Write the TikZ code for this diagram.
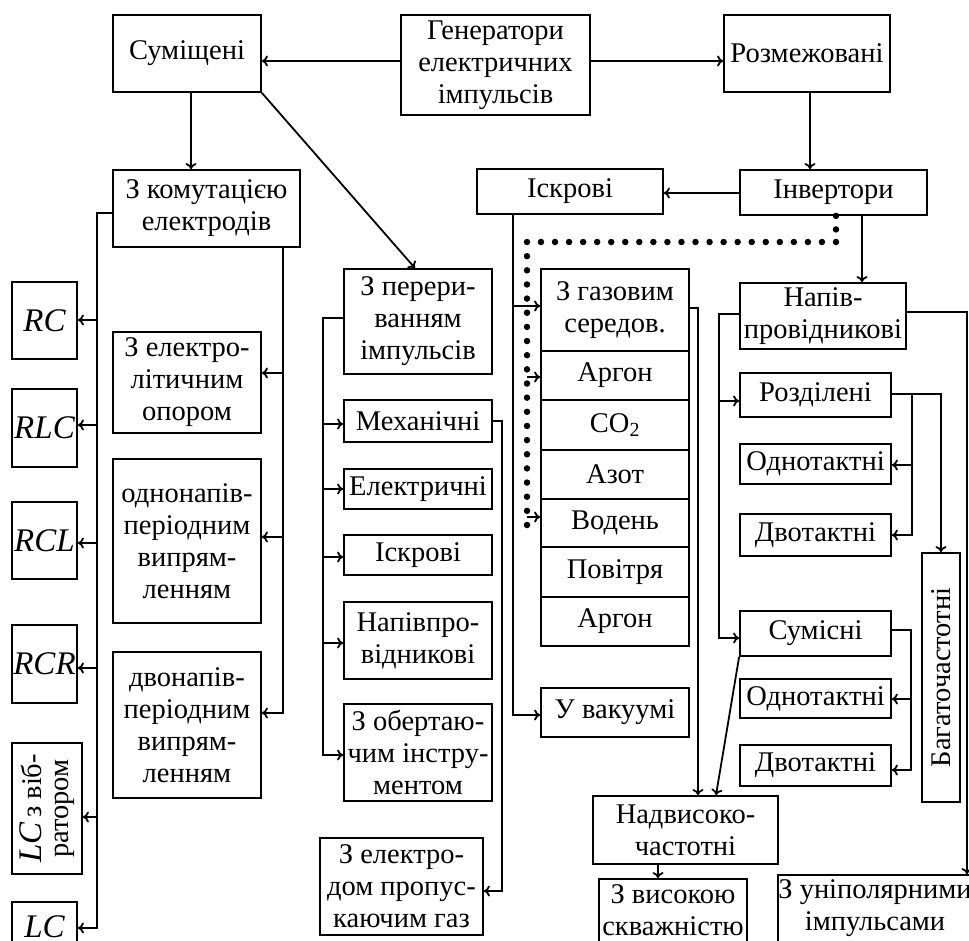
\documentclass[tikz,border=0pt]{standalone}
\usepackage{fontspec}
\setmainfont{Liberation Serif}
\usetikzlibrary{arrows.meta}
\tikzset{
  box/.style={draw, line width=1.8pt, inner sep=0pt, align=center, font=\fontsize{28.5}{32}\selectfont},
  conn/.style={line width=1.8pt},
  arr/.style={conn, -{To[length=6pt,width=11pt]}},
  dots/.style={line width=6.5pt, line cap=round, dash pattern=on 0pt off 14pt},
  it/.style={font=\fontsize{33}{34}\selectfont\itshape}
}
\newcommand\mybox[7][]{\node[box,minimum width={#5-#3},minimum height={#6-#4},#1] (#2) at ({(#3+#5)/2},{(#4+#6)/2}) {#7};}
\begin{document}
\begin{tikzpicture}[x=1pt,y=-1pt]
\clip (0,0) rectangle (969,940);
% top level
\mybox{gen}{401}{15}{590}{115}{Генератори\\електричних\\імпульсів}
\mybox{sum}{113}{15}{261}{92}{Суміщені}
\mybox{rozm}{724}{15}{890}{92}{Розмежовані}
\mybox{komut}{113}{170}{300}{247}{З комутацією\\електродів}
\mybox{iskr}{477}{169}{663}{214}{Іскрові}
\mybox{inv}{740}{170}{927}{215}{Інвертори}
\mybox{per}{344}{269}{492}{374}{З перери-\\ванням\\імпульсів}
% gas column
\mybox{gas}{541}{269}{689}{351}{З газовим\\середов.}
\mybox{ar1}{541}{351}{689}{400}{Аргон}
\mybox{co2}{541}{400}{689}{450}{CO\textsubscript{2}}
\mybox{az}{541}{450}{689}{499}{Азот}
\mybox{vod}{541}{499}{689}{547}{Водень}
\mybox{pov}{541}{547}{689}{597}{Повітря}
\mybox{ar2}{541}{597}{689}{646}{Аргон}
\mybox{vak}{541}{688}{689}{737}{У вакуумі}
% right column
\mybox{napiv}{740}{283}{906}{349}{Напів-\\провідникові}
\mybox{rozd}{740}{373}{891}{417}{Розділені}
\mybox{odn1}{740}{444}{891}{484}{Однотактні}
\mybox{dvo1}{740}{514}{891}{556}{Двотактні}
\mybox{sums}{740}{611}{891}{656}{Сумісні}
\mybox{odn2}{740}{679}{891}{718}{Однотактні}
\mybox{dvo2}{740}{745}{891}{786}{Двотактні}
\node[box,rotate=90,minimum width=249,minimum height=38] (bag) at (941,677.5) {Багаточастотні};
\mybox{nadv}{593}{796}{778}{864}{Надвисоко-\\частотні}
\mybox{vys}{599}{879}{747}{942}{З високою\\скважністю}
\mybox{unip}{779}{875}{971}{942}{З уніполярними\\імпульсами}
% left column
\mybox[it]{rc}{12}{282}{77}{359}{RC}
\mybox[it]{rlc}{12}{389}{77}{467}{RLC}
\mybox[it]{rcl}{12}{502}{77}{579}{RCL}
\mybox[it]{rcr}{12}{625}{77}{703}{RCR}
\node[box,rotate=90,minimum width=131,minimum height=70,font=\fontsize{28.5}{27}\selectfont] (lcv) at (47,808.5) {{\fontsize{33}{27}\selectfont\itshape LC}\,з віб-\\ратором};
\mybox[it]{lc}{12}{902}{77}{952}{LC}
\mybox{elit}{113}{332}{261}{433}{З електро-\\літичним\\опором}
\mybox{odnp}{113}{459}{261}{623}{однонапів-\\періодним\\випрям-\\ленням}
\mybox{dvnp}{113}{652}{261}{798}{двонапів-\\періодним\\випрям-\\ленням}
% middle column
\mybox{mech}{344}{400}{492}{442}{Механічні}
\mybox{elek}{344}{469}{492}{509}{Електричні}
\mybox{isk2}{344}{535}{492}{575}{Іскрові}
\mybox{npp}{344}{602}{492}{679}{Напівпро-\\відникові}
\mybox{obert}{344}{704}{492}{801}{З обертаю-\\чим інстру-\\ментом}
\mybox{zeld}{320}{838}{483}{935}{З електро-\\дом пропус-\\каючим газ}
% connectors: top
\draw[arr] (gen.west |- 0,61) -- (sum.east |- 0,61);
\draw[arr] (gen.east |- 0,61) -- (rozm.west |- 0,61);
\draw[arr] (sum.south -| 191,0) -- (komut.north -| 191,0);
\draw[arr] (sum.south east) -- (per.north -| 415,0);
\draw[arr] (rozm.south -| 810,0) -- (inv.north -| 810,0);
\draw[arr] (inv.west |- 0,193) -- (iskr.east |- 0,193);
\draw[arr] (inv.south -| 862,0) -- (napiv.north -| 862,0);
% dotted
\coordinate (dc1) at (836,242);
\coordinate (dc2) at (527,242);
\coordinate (dc3) at (527,525);
\coordinate (dA) at (527,377);
\coordinate (dB) at (527,517);
\draw[dots, dash pattern=on 0pt off 13.5pt] (inv.south -| 836,0) -- (dc1);
\draw[dots, dash pattern=on 0pt off 14.05pt] (dc1) -- (dc2);
\draw[dots, dash pattern=on 0pt off 14.15pt] (dc2) -- (dc3);
\draw[arr] (dA) -- (ar1.west |- dA);
\draw[arr] (dB) -- (vod.west |- dB);
% iskrovi
\coordinate (j1) at (513,306);
\draw[arr] (iskr.south -| 513,0) -- (513,715) -- (vak.west |- 0,715);
\draw[arr] (j1) -- (gas.west |- j1);
% to nadv
\draw[arr] (gas.east |- 0,308) -- (698,308) -- (nadv.north -| 698,0);
\draw[arr] (sums.south west) -- (nadv.north -| 716,0);
\draw[arr] (nadv.south -| 658,0) -- (vys.north -| 658,0);
% napiv left
\coordinate (j2) at (719,401);
\draw[arr] (napiv.west |- 0,314) -- (719,314) -- (719,638) -- (sums.west |- 0,638);
\draw[arr] (j2) -- (rozd.west |- j2);
% rozd
\coordinate (j3) at (912,394);
\coordinate (j4) at (912,465);
\draw[arr] (rozd.east |- 0,394) -- (941,394) -- (bag.east -| 941,0);
\draw[arr] (j3) -- (912,535) -- (dvo1.east |- 0,535);
\draw[arr] (j4) -- (odn1.east |- j4);
% sums
\coordinate (j5) at (911,699);
\draw[arr] (sums.east |- 0,630) -- (911,630) -- (911,770) -- (dvo2.east |- 0,770);
\draw[arr] (j5) -- (odn2.east |- j5);
% napiv right
\draw[arr] (napiv.east |- 0,312) -- (967,312) -- (unip.north -| 967,0);
% komut left
\coordinate (k1) at (97,320);
\coordinate (k2) at (97,425);
\coordinate (k3) at (97,543);
\coordinate (k4) at (97,668);
\coordinate (k5) at (97,817);
\draw[arr] (komut.west |- 0,213) -- (97,213) -- (97,928) -- (lc.east |- 0,928);
\draw[arr] (k1) -- (rc.east |- k1);
\draw[arr] (k2) -- (rlc.east |- k2);
\draw[arr] (k3) -- (rcl.east |- k3);
\draw[arr] (k4) -- (rcr.east |- k4);
\draw[arr] (k5) -- (lcv.south |- k5);
% komut right
\coordinate (m1) at (283,373);
\coordinate (m2) at (283,537);
\draw[arr] (komut.south -| 283,0) -- (283,713) -- (dvnp.east |- 0,713);
\draw[arr] (m1) -- (elit.east |- m1);
\draw[arr] (m2) -- (odnp.east |- m2);
% pereryv
\coordinate (p1) at (323,424);
\coordinate (p2) at (323,489);
\coordinate (p3) at (323,557);
\coordinate (p4) at (323,643);
\draw[arr] (per.west |- 0,318) -- (323,318) -- (323,755) -- (obert.west |- 0,755);
\draw[arr] (p1) -- (mech.west |- p1);
\draw[arr] (p2) -- (elek.west |- p2);
\draw[arr] (p3) -- (isk2.west |- p3);
\draw[arr] (p4) -- (npp.west |- p4);
% mech
\draw[arr] (mech.east |- 0,421) -- (502,421) -- (502,891) -- (zeld.east |- 0,891);
\end{tikzpicture}
\end{document}
